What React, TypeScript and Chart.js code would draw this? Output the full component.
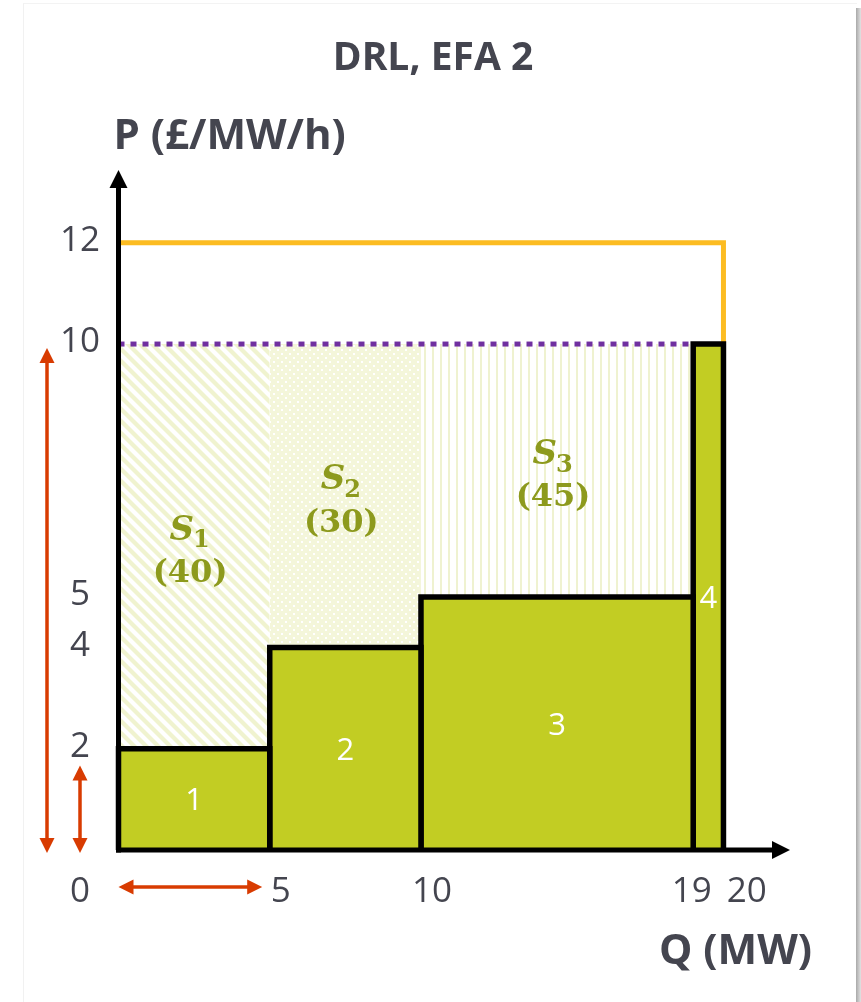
import React, { useEffect, useRef } from 'react';
import { Chart, registerables } from 'chart.js';

Chart.register(...registerables);

// Offer stack: quantity breakpoints (MW) and the price of each block (£/MW/h)
const quantityEdges = [0, 5, 10, 19, 20];
const bidPrices = [2, 4, 5, 10];
const bidNames = ['1', '2', '3', '4'];
const clearingPrice = 10;
const capPrice = 12;
// Surplus areas above the accepted blocks
const surplusIndex = ['1', '2', '3'];
const surplusValues = [40, 30, 45];
// Axis labelling
const yTickValues = [12, 10, 5, 4, 2];
const xTickValues = [5, 10, 19, 20];
const originLabel = '0';
const titleText = 'DRL, EFA 2';
const yAxisTitle = 'P (£/MW/h)';
const xAxisTitle = 'Q (MW)';
const xMax = 22.2;
const yMax = 13.44;

const W = 861;
const H = 1002;
const TEXT = '#44454f';
const BAR_FILL = '#c2cd23';
const SURPLUS_TEXT = '#8d9a1d';
const ARROW = '#d83b01';
const SANS = '"Open Sans", "DejaVu Sans", sans-serif';
const SERIF = '"DejaVu Serif", serif';

type Kind = 'diag' | 'dots' | 'vert';

function makePattern(ctx: CanvasRenderingContext2D, kind: Kind): CanvasPattern | string {
  const tile = document.createElement('canvas');
  const g = tile.getContext('2d');
  if (!g) return '#f2f5d5';
  if (kind === 'diag') {
    const s = 12;
    tile.width = s;
    tile.height = s;
    g.fillStyle = '#ffffff';
    g.fillRect(0, 0, s, s);
    g.strokeStyle = '#f0f3cf';
    g.lineWidth = 4.2;
    for (const k of [-s, 0, s]) {
      g.beginPath();
      g.moveTo(k - 3, -3);
      g.lineTo(k + s + 3, s + 3);
      g.stroke();
    }
  } else if (kind === 'dots') {
    const s = 8;
    tile.width = s;
    tile.height = s;
    g.fillStyle = '#f4f6da';
    g.fillRect(0, 0, s, s);
    g.fillStyle = '#ffffff';
    g.fillRect(1, 1, 2, 2);
    g.fillRect(5, 5, 2, 2);
  } else {
    tile.width = 8;
    tile.height = 4;
    g.fillStyle = '#ffffff';
    g.fillRect(0, 0, 8, 4);
    g.fillStyle = '#eff2d0';
    g.fillRect(0, 0, 2, 4);
  }
  return ctx.createPattern(tile, 'repeat') || '#f2f5d5';
}

function arrowHead(ctx: CanvasRenderingContext2D, tx: number, ty: number, dx: number, dy: number, len: number, half: number) {
  // (dx, dy) is the unit direction the arrow points to
  const bx = tx - dx * len;
  const by = ty - dy * len;
  ctx.beginPath();
  ctx.moveTo(tx, ty);
  ctx.lineTo(bx - dy * half, by + dx * half);
  ctx.lineTo(bx + dy * half, by - dx * half);
  ctx.closePath();
  ctx.fill();
}

const overlayPlugin = {
  id: 'overlay',
  afterDatasetsDraw(chart: any) {
    const { ctx, chartArea: a } = chart;
    const xs = chart.scales.x;
    const ys = chart.scales.y;
    const px = (v: number) => xs.getPixelForValue(v);
    const py = (v: number) => ys.getPixelForValue(v);
    const x0 = px(0);
    const y0 = py(0);

    ctx.save();

    // Axes with arrow heads
    ctx.strokeStyle = '#000';
    ctx.fillStyle = '#000';
    ctx.lineWidth = 5;
    ctx.lineCap = 'butt';
    ctx.beginPath();
    ctx.moveTo(x0 - 2.5, y0);
    ctx.lineTo(a.right - 16, y0);
    ctx.stroke();
    arrowHead(ctx, a.right, y0, 1, 0, 18, 9);
    ctx.beginPath();
    ctx.moveTo(x0, y0 + 2.5);
    ctx.lineTo(x0, a.top + 16);
    ctx.stroke();
    arrowHead(ctx, x0, a.top, 0, -1, 18, 9);

    // Measurement arrows along the axes
    ctx.strokeStyle = ARROW;
    ctx.fillStyle = ARROW;
    ctx.lineWidth = 3.5;
    const vArrow = (x: number, from: number, to: number) => {
      const top = py(to) + 4;
      const bot = py(from) + 3;
      ctx.beginPath();
      ctx.moveTo(x, top + 12);
      ctx.lineTo(x, bot - 12);
      ctx.stroke();
      arrowHead(ctx, x, top, 0, -1, 15, 7.5);
      arrowHead(ctx, x, bot, 0, 1, 15, 7.5);
    };
    vArrow(x0 - 71.5, 0, clearingPrice);
    vArrow(x0 - 38.5, 0, 1.75);
    const hy = y0 + 37;
    const hl = px(0);
    const hr = px(4.75);
    ctx.beginPath();
    ctx.moveTo(hl + 12, hy);
    ctx.lineTo(hr - 12, hy);
    ctx.stroke();
    arrowHead(ctx, hl, hy, -1, 0, 15, 7.5);
    arrowHead(ctx, hr, hy, 1, 0, 15, 7.5);

    // Block numbers
    ctx.fillStyle = '#ffffff';
    ctx.font = `31px ${SANS}`;
    ctx.textAlign = 'center';
    ctx.textBaseline = 'alphabetic';
    bidPrices.forEach((p, i) => {
      const cx = px((quantityEdges[i] + quantityEdges[i + 1]) / 2);
      const cy = py(p / 2);
      ctx.fillText(bidNames[i], cx, cy + 11);
    });

    // Surplus labels
    ctx.fillStyle = SURPLUS_TEXT;
    surplusValues.forEach((val, i) => {
      const cx = px((quantityEdges[i] + quantityEdges[i + 1]) / 2);
      const cy = py((bidPrices[i] + clearingPrice) / 2);
      ctx.font = `italic bold 34px ${SERIF}`;
      const sW = ctx.measureText('S').width;
      ctx.font = `bold 24px ${SERIF}`;
      const subW = ctx.measureText(surplusIndex[i]).width;
      const startX = cx - 4 - (sW + subW) / 2;
      ctx.textAlign = 'left';
      ctx.font = `italic bold 34px ${SERIF}`;
      ctx.fillText('S', startX, cy - 19 + 12.4);
      ctx.font = `bold 24px ${SERIF}`;
      ctx.fillText(surplusIndex[i], startX + sW - 1, cy - 19 + 20);
      ctx.textAlign = 'center';
      ctx.font = `bold 32px ${SERIF}`;
      ctx.fillText(`(${val})`, cx - 4, cy + 24 + 11.7);
    });

    // Tick labels
    ctx.fillStyle = TEXT;
    ctx.font = `35px ${SANS}`;
    ctx.textAlign = 'center';
    const labelX = x0 - 38.5;
    yTickValues.forEach((v) => {
      ctx.fillText(String(v), labelX, py(v) + 8);
    });
    const xBase = y0 + 52;
    ctx.fillText(originLabel, labelX, xBase);
    const centers = xTickValues.map((v) => px(v) + 11);
    const minGap = 55;
    for (let i = 1; i < centers.length; i++) {
      if (centers[i] - centers[i - 1] < minGap) {
        const mid = (centers[i] + centers[i - 1]) / 2;
        centers[i - 1] = mid - minGap / 2;
        centers[i] = mid + minGap / 2;
      }
    }
    xTickValues.forEach((v, i) => ctx.fillText(String(v), centers[i], xBase));

    // Titles
    ctx.font = `bold 39px ${SANS}`;
    ctx.textAlign = 'center';
    ctx.fillText(titleText, 433, 70);
    ctx.font = `bold 42px ${SANS}`;
    ctx.textAlign = 'left';
    ctx.fillText(yAxisTitle, x0 - 5, 149);
    ctx.textAlign = 'right';
    ctx.fillText(xAxisTitle, 812, 964);

    ctx.restore();
  },
};

export default function App() {
  const canvasRef = useRef<HTMLCanvasElement | null>(null);

  useEffect(() => {
    const canvas = canvasRef.current;
    if (!canvas) return;
    const ctx = canvas.getContext('2d');
    if (!ctx) return;

    const patterns = [makePattern(ctx, 'diag'), makePattern(ctx, 'dots'), makePattern(ctx, 'vert')];

    const datasets: any[] = [];

    // Cap price line and clearing price line
    datasets.push({
      data: [
        { x: quantityEdges[0], y: capPrice },
        { x: quantityEdges[quantityEdges.length - 1], y: capPrice },
        { x: quantityEdges[quantityEdges.length - 1], y: clearingPrice },
      ],
      borderColor: '#fcbc22',
      borderWidth: 5,
      fill: false,
      order: 3,
    });
    datasets.push({
      data: [
        { x: quantityEdges[0], y: clearingPrice },
        { x: quantityEdges[quantityEdges.length - 2], y: clearingPrice },
      ],
      borderColor: '#7030a0',
      borderWidth: 5,
      borderDash: [6, 6],
      borderCapStyle: 'butt',
      fill: false,
      order: 2,
    });

    // Accepted blocks
    bidPrices.forEach((p, i) => {
      const l = quantityEdges[i];
      const r = quantityEdges[i + 1];
      datasets.push({
        data: [
          { x: l, y: 0 },
          { x: l, y: p },
          { x: r, y: p },
          { x: r, y: 0 },
        ],
        borderColor: '#000000',
        backgroundColor: BAR_FILL,
        borderWidth: 5.5,
        borderJoinStyle: 'miter',
        fill: 'origin',
        order: 1,
      });
    });

    // Surplus regions between each block and the clearing price
    surplusValues.forEach((_, i) => {
      datasets.push({
        data: [
          { x: quantityEdges[i], y: bidPrices[i] },
          { x: quantityEdges[i + 1], y: bidPrices[i] },
        ],
        borderWidth: 0,
        borderColor: 'rgba(0,0,0,0)',
        backgroundColor: patterns[i],
        fill: { value: clearingPrice },
        order: 5,
      });
    });

    const chart = new Chart(ctx, {
      type: 'line',
      data: { datasets },
      options: {
        animation: false,
        responsive: false,
        devicePixelRatio: 1,
        events: [],
        layout: { padding: { left: 118.5, right: W - 790, top: 170, bottom: H - 850 } },
        elements: { point: { radius: 0, hoverRadius: 0 }, line: { tension: 0 } },
        datasets: { line: { clip: false } as any },
        scales: {
          x: { type: 'linear', min: 0, max: xMax, display: false },
          y: { type: 'linear', min: 0, max: yMax, display: false },
        },
        plugins: {
          legend: { display: false },
          tooltip: { enabled: false },
          title: { display: false },
        },
      },
      plugins: [overlayPlugin],
    });

    return () => chart.destroy();
  }, []);

  return (
    <div style={{ position: 'fixed', left: 0, top: 0, width: W, height: H, background: '#fff', overflow: 'hidden' }}>
      <div
        style={{
          position: 'absolute',
          left: 23,
          top: 3,
          width: 833,
          height: H,
          borderLeft: '1px solid #f1f1f1',
          borderTop: '1px solid #f3f3f3',
        }}
      />
      <div
        style={{
          position: 'absolute',
          left: 856,
          top: 8,
          width: 5,
          height: H,
          background: 'linear-gradient(to right, #a9a9a9, #e2e2e2)',
        }}
      />
      <canvas ref={canvasRef} width={W} height={H} style={{ position: 'absolute', left: 0, top: 0, width: W, height: H }} />
    </div>
  );
}
